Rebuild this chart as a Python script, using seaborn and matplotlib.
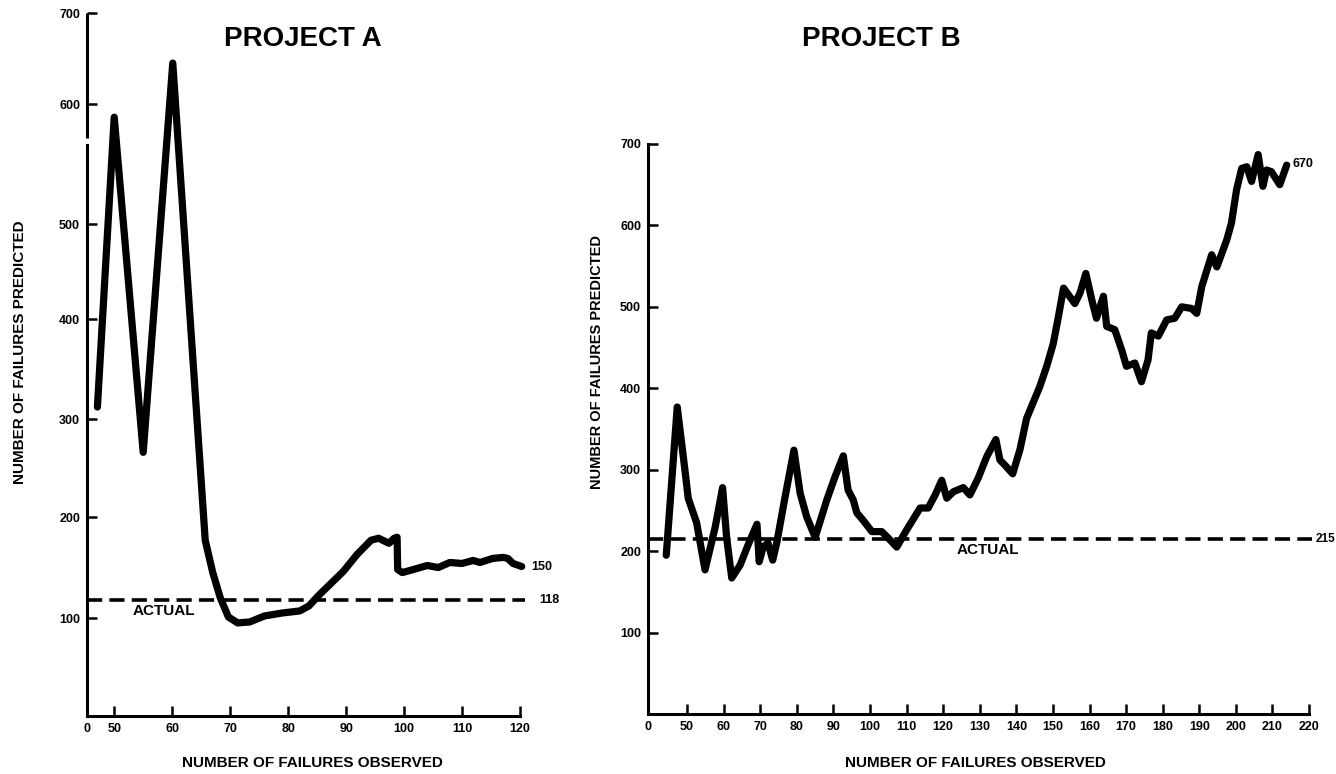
import numpy as np
import pandas as pd
import matplotlib.pyplot as plt
import seaborn as sns

# Project A: failures observed vs failures predicted
a_failures = [47.1, 50.0, 55.0, 60.1, 65.7, 67.0, 68.3, 69.7, 71.3, 73.4, 75.9, 79.0,
              82.0, 83.6, 85.2, 89.5, 91.9, 94.3, 95.6, 97.4, 98.3, 98.8, 98.9, 99.7,
              101.6, 104.0, 105.9, 107.9, 110.0, 111.9, 113.1, 115.3, 117.1, 117.9, 118.8, 120.3]
a_predicted = [312, 589, 266, 645, 177, 145, 120, 101, 95, 96, 102, 105,
               107, 112, 122, 146, 163, 177, 179, 174, 179, 180, 148, 145,
               148, 152, 150, 155, 154, 157, 155, 159, 160, 159, 154, 151]
a_actual = 118
a_last = 150

# Project B
b_failures = [44.3, 47.3, 49.5, 50.3, 52.6, 54.9, 57.7, 59.7, 60.8, 62.2, 64.5, 66.7,
              69.1, 69.7, 70.8, 72.1, 73.4, 74.5, 76.8, 79.2, 80.9, 82.7, 85.0, 88.2,
              90.4, 92.7, 94.0, 95.4, 96.4, 98.1, 100.5, 103.2, 105.0, 107.3, 110.0, 113.7,
              115.9, 117.8, 119.6, 121.0, 122.8, 125.5, 127.3, 129.6, 131.9, 134.4, 135.5, 137.0,
              139.0, 141.0, 142.8, 146.4, 148.3, 150.1, 151.5, 152.9, 156.0, 157.4, 159.0, 160.6,
              161.9, 163.8, 164.7, 166.9, 168.8, 170.1, 172.4, 174.2, 176.0, 176.9, 178.8, 181.1,
              183.3, 185.2, 187.9, 189.3, 190.7, 193.4, 194.8, 197.5, 198.8, 200.2, 201.6, 203.0,
              204.3, 206.1, 207.4, 208.4, 209.7, 212.0, 213.9]
b_predicted = [195, 377, 296, 265, 235, 177, 230, 278, 217, 167, 183, 208,
               233, 187, 205, 210, 189, 210, 267, 324, 271, 242, 217, 263,
               291, 317, 275, 263, 247, 238, 224, 224, 216, 205, 226, 253,
               253, 269, 287, 265, 273, 278, 269, 290, 316, 337, 312, 305,
               295, 325, 363, 402, 427, 455, 488, 523, 504, 517, 541, 509,
               486, 513, 476, 472, 447, 427, 431, 408, 435, 468, 464, 484,
               486, 500, 498, 492, 525, 564, 549, 582, 603, 644, 670, 672,
               654, 687, 648, 668, 666, 650, 674]
b_actual = 215
b_last = 670

a_xticks = [50, 60, 70, 80, 90, 100, 110, 120]
b_xticks = [50, 60, 70, 80, 90, 100, 110, 120, 130, 140, 150, 160, 170, 180, 190, 200, 210, 220]
yticks = [100, 200, 300, 400, 500, 600, 700]

# the Project A y axis is uneven on the original (break between 500 and 600)
a_ytick_vals = [0, 100, 200, 300, 400, 500, 600, 700]
a_ytick_pos = [0, 98, 199, 297, 397, 492, 612, 703]

df_a = pd.DataFrame({'Failures': a_failures, 'Predicted': a_predicted})
df_b = pd.DataFrame({'Failures': b_failures, 'Predicted': b_predicted})

sns.set_style('ticks')
plt.rcParams['font.family'] = ['Liberation Sans', 'DejaVu Sans']
plt.rcParams['font.weight'] = 'bold'
plt.rcParams['text.color'] = 'black'
plt.rcParams['axes.labelcolor'] = 'black'
plt.rcParams['xtick.color'] = 'black'
plt.rcParams['ytick.color'] = 'black'
plt.rcParams['axes.edgecolor'] = 'black'

fig = plt.figure(figsize=(13.36, 7.74), dpi=100)
axA = fig.add_axes([0.0651, 0.0749, 0.3241, 0.9083])
axB = fig.add_axes([0.4850, 0.0775, 0.4948, 0.7365])

line_kw = dict(color='black', linewidth=5.2, clip_on=False,
               solid_capstyle='round', solid_joinstyle='round')
dash_kw = dict(color='black', linewidth=2.6, dashes=(4.2, 2.0), clip_on=False)

#Project A
a_left = 45.3
axA.set_yscale('function', functions=(lambda v: np.interp(v, a_ytick_vals, a_ytick_pos),
                                      lambda p: np.interp(p, a_ytick_pos, a_ytick_vals)))
sns.lineplot(x='Failures', y='Predicted', data=df_a, ax=axA, sort=False, estimator=None, **line_kw)
axA.axhline(a_actual, xmin=0, xmax=1.012, **dash_kw)
axA.set_xlim(a_left, 120)
axA.set_ylim(0, 700)
axA.set_xticks([a_left] + a_xticks)
axA.set_xticklabels(['0'] + [str(t) for t in a_xticks])
axA.set_yticks(yticks)
axA.set_yticklabels([str(t) for t in yticks])
axA.spines['left'].set_bounds(0, 566)
axA.plot([a_left, a_left], [572, 700], color='black', linewidth=2.2, clip_on=False,
         solid_capstyle='butt')
axA.text(58.6, 107, 'ACTUAL', ha='center', va='center', fontsize=11)
axA.annotate(str(a_last), xy=(a_failures[-1], a_predicted[-1]), xytext=(7, 0),
             textcoords='offset points', ha='left', va='center', fontsize=9,
             annotation_clip=False)
axA.annotate(str(a_actual), xy=(120, a_actual), xytext=(14, 0),
             textcoords='offset points', ha='left', va='center', fontsize=9,
             annotation_clip=False)

#Project B
b_left = 39.3
sns.lineplot(x='Failures', y='Predicted', data=df_b, ax=axB, sort=False, estimator=None, **line_kw)
axB.axhline(b_actual, xmin=0, xmax=1.004, **dash_kw)
axB.set_xlim(b_left, 220)
axB.set_ylim(0, 700)
axB.set_xticks([b_left] + b_xticks)
axB.set_xticklabels(['0'] + [str(t) for t in b_xticks])
axB.set_yticks(yticks)
axB.set_yticklabels([str(t) for t in yticks])
axB.text(132.2, 201, 'ACTUAL', ha='center', va='center', fontsize=11)
axB.annotate(str(b_last), xy=(b_failures[-1], b_predicted[-1]), xytext=(4, 1),
             textcoords='offset points', ha='left', va='center', fontsize=9,
             annotation_clip=False)
axB.annotate(str(b_actual), xy=(220, b_actual), xytext=(4.5, 0),
             textcoords='offset points', ha='left', va='center', fontsize=8.5,
             annotation_clip=False)

for ax in [axA, axB]:
    sns.despine(ax=ax)
    ax.spines['left'].set_linewidth(2.2)
    ax.spines['bottom'].set_linewidth(2.2)
    ax.tick_params(direction='in', length=7, width=1.8, labelsize=9, pad=5, colors='black')
    ax.set_xlabel('')
    ax.set_ylabel('')

fig.text(0.2268, 0.9496, 'PROJECT A', ha='center', va='center', fontsize=20)
fig.text(0.660, 0.9496, 'PROJECT B', ha='center', va='center', fontsize=20)
fig.text(0.015, 0.545, 'NUMBER OF FAILURES PREDICTED', rotation=90, ha='center', va='center', fontsize=11)
fig.text(0.447, 0.532, 'NUMBER OF FAILURES PREDICTED', rotation=90, ha='center', va='center', fontsize=10.5)
fig.text(0.234, 0.0142, 'NUMBER OF FAILURES OBSERVED', ha='center', va='center', fontsize=11)
fig.text(0.730, 0.0142, 'NUMBER OF FAILURES OBSERVED', ha='center', va='center', fontsize=11)

plt.savefig('out.png', dpi=100)
